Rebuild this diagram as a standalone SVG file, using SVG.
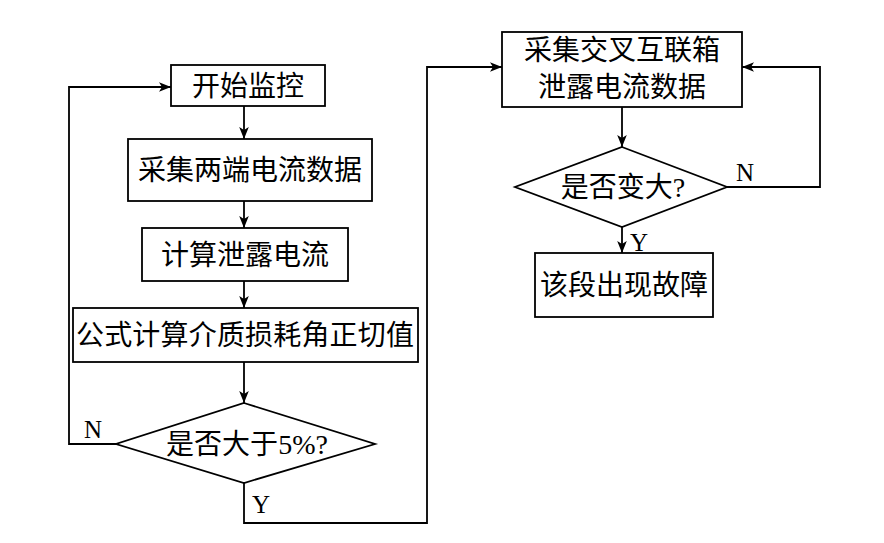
<svg xmlns="http://www.w3.org/2000/svg" width="884" height="543" viewBox="0 0 884 543">
<defs>
<style>
.n{fill:#fff;stroke:#000;stroke-width:1.8}
.t{font-family:"Liberation Serif","Noto Sans CJK SC",serif;font-size:28px;fill:#000;text-anchor:middle}
.s{font-family:"Liberation Serif",serif}
.l{font-family:"Liberation Serif",serif;font-size:25px;fill:#000}
.c{fill:none;stroke:#000;stroke-width:1.8}
</style>
<marker id="a" viewBox="0 0 10 10" refX="10" refY="5" markerWidth="12" markerHeight="12" markerUnits="userSpaceOnUse" orient="auto">
<path d="M0,1 L10,5 L0,9 L2.5,5 Z" fill="#000"/>
</marker>
</defs>
<rect width="884" height="543" fill="#fff"/>
<g id="connectors">
<path class="c" d="M244,106 V139" marker-end="url(#a)"/>
<path class="c" d="M244,201 V228" marker-end="url(#a)"/>
<path class="c" d="M244,281 V308" marker-end="url(#a)"/>
<path class="c" d="M244,362 V403" marker-end="url(#a)"/>
<path class="c" d="M116,444 H69 V87 H171" marker-end="url(#a)"/>
<path class="c" d="M244,483 V523 H427 V67 H502" marker-end="url(#a)"/>
<path class="c" d="M622,107 V147" marker-end="url(#a)"/>
<path class="c" d="M727,187 H820 V67 H742" marker-end="url(#a)"/>
<path class="c" d="M622,227 V253" marker-end="url(#a)"/>
<text class="l" x="84" y="438">N</text>
<text class="l" x="252" y="513">Y</text>
<text class="l" x="736" y="181">N</text>
<text class="l" x="630" y="251">Y</text>
</g>
<g id="start">
<rect class="n" x="171" y="65" width="154" height="41"/>
<text class="t" x="248" y="96">开始监控</text>
</g>
<g id="collect">
<rect class="n" x="128" y="139" width="244" height="62"/>
<text class="t" x="250" y="180">采集两端电流数据</text>
</g>
<g id="calc">
<rect class="n" x="142" y="228" width="206" height="53"/>
<text class="t" x="245" y="265">计算泄露电流</text>
</g>
<g id="formula">
<rect class="n" x="73" y="308" width="345" height="54"/>
<text class="t" x="245" y="345" textLength="338" lengthAdjust="spacing">公式计算介质损耗角正切值</text>
</g>
<g id="decision1">
<polygon class="n" points="244,403 375,444 244,483 116,444"/>
<text class="t" x="247" y="454">是否大于<tspan class="s">5%?</tspan></text>
</g>
<g id="collect2">
<rect class="n" x="502" y="32" width="240" height="75"/>
<text class="t" x="622" y="60">采集交叉互联箱</text>
<text class="t" x="622" y="97">泄露电流数据</text>
</g>
<g id="decision2">
<polygon class="n" points="622,147 727,187 622,227 515,187"/>
<text class="t" x="623" y="197">是否变大<tspan class="s">?</tspan></text>
</g>
<g id="fault">
<rect class="n" x="535" y="253" width="178" height="64"/>
<text class="t" x="624" y="295">该段出现故障</text>
</g>
</svg>
